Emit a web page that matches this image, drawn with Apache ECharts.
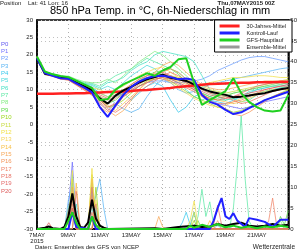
<!DOCTYPE html>
<html>
<head>
<meta charset="utf-8">
<script src="https://cdn.jsdelivr.net/npm/echarts@6/dist/echarts.min.js"></script>
<style>
  html, body { margin: 0; padding: 0; background: #fff; }
  #chart { width: 300px; height: 250px; }
</style>
</head>
<body>
<div id="chart"></div>
<script>
// time axis in forecast hours from 07MAY2015 00Z
const hours = [0, 12, 24, 36, 48, 60, 72, 84, 96, 108, 120, 132, 144, 156, 168, 180, 192,
  204, 216, 228, 240, 252, 264, 276, 288, 300, 312, 324, 336, 348, 360, 372, 384];
const dateLabels = ["7MAY\n2015", "9MAY", "11MAY", "13MAY", "15MAY", "17MAY", "19MAY", "21MAY", ""];

// 850 hPa temperature, main runs
const climTemp = [8.8, 8.8, 8.85, 8.9, 8.9, 9.0, 9.0, 9.1, 9.2, 9.3, 9.4, 9.5, 9.6, 9.8, 9.9, 10.1, 10.3,
  10.5, 10.8, 11.0, 11.2, 11.4, 11.6, 11.7, 11.8, 11.9, 12.0, 12.0, 12.1, 12.1, 12.1, 12.2, 12.2];
const meanTemp = [19.0, 14.6, 14.2, 13.4, 13.3, 12.0, 11.0, 9.8, 7.5, 6.0, 8.3, 9.8, 10.8, 12.0, 13.0, 13.6, 14.3,
  13.4, 13.0, 12.5, 11.5, 10.3, 9.5, 9.0, 8.5, 7.8, 8.0, 8.3, 8.7, 9.0, 9.6, 10.1, 10.5];
const controlTemp = [19.0, 14.8, 14.0, 13.3, 13.1, 11.8, 10.6, 9.2, 5.0, 2.2, 5.5, 8.5, 10.8, 12.3, 13.3, 13.9, 14.0,
  13.6, 13.0, 13.2, 12.8, 8.5, 6.5, 5.7, 4.2, 3.0, 3.5, 4.7, 5.8, 7.0, 7.8, 8.6, 9.4];
const gfsTemp = [19.5, 15.2, 14.4, 13.9, 13.6, 12.6, 11.5, 10.5, 7.0, 7.3, 10.0, 11.5, 12.6, 13.6, 14.7, 14.0, 15.5,
  16.5, 18.7, 19.0, 12.0, 5.6, 7.0, 8.3, 9.6, 13.3, 9.0, 6.5, 5.0, 4.0, 3.7, 4.0, 8.5];

// ensemble members P1..P20 temperature
const memberTemp = [
  [19.2, 14.8, 14.0, 13.2, 13.0, 11.8, 10.6, 9.0, 6, 4, 6, 9, 11, 12.5, 13.5, 14, 14.5, 14, 13, 12, 10, 8.5, 7, 6, 5.5, 5, 4.5, 5, 6, 6.5, 7, 7.5, 8],
  [19.4, 14.5, 14.4, 13.6, 13.5, 12.3, 11.2, 10.2, 8, 7, 8, 9, 10, 11, 12, 12.5, 12.5, 12, 12, 12, 12.5, 13, 14, 15.5, 16.5, 17.5, 18.5, 19.2, 19.5, 19.5, 19, 18.5, 18],
  [19.1, 14.3, 14.1, 13.3, 13.6, 12.4, 11.5, 10.8, 9, 8, 6, 4.5, 3.5, 4.5, 8, 11, 13, 12, 10, 9, 9.5, 10.5, 11.5, 12, 12.5, 13, 13.5, 14, 14.5, 15, 15.5, 16, 16.3],
  [19.3, 14.9, 14.5, 13.8, 13.2, 12.2, 11.4, 10.5, 9, 9.5, 8, 9, 7, 9, 11, 12, 11, 7, 3.5, 5, 8, 9, 7, 6.5, 6, 7, 8, 9, 10, 10.5, 11, 11, 11.5],
  [19.4, 14.6, 14.3, 13.5, 13.7, 12.5, 11.7, 11.2, 10, 11, 10, 12, 14, 15.5, 17, 16, 14, 13, 12, 10, 8, 7, 8, 9, 8.5, 8, 7.5, 8, 9, 9.5, 10, 10.5, 11],
  [19.2, 14.4, 14.0, 13.4, 13.4, 12.6, 11.8, 11.5, 10.5, 12, 12.5, 13.5, 15.5, 17, 18, 20, 21, 20.5, 20, 19.5, 18, 14, 10, 8, 7, 7.5, 8, 9.5, 10, 10.5, 11, 11.5, 12],
  [19.5, 15.0, 14.6, 13.9, 13.8, 12.8, 12.0, 11.8, 11, 12.5, 14, 15, 16, 17.5, 19, 18, 17, 16, 15, 13, 11, 9, 8, 7, 7, 7.5, 6.5, 7, 8.5, 9.5, 10, 10.5, 11],
  [19.3, 14.7, 14.4, 13.7, 13.9, 13.0, 12.3, 12.0, 12, 13, 12, 14, 16, 18, 19.5, 21, 20, 18, 16, 14, 12, 10, 9, 8, 8.5, 9, 9.5, 10, 10.5, 11, 11, 11.5, 12],
  [19.4, 15.1, 14.5, 13.5, 13.3, 12.1, 11.0, 9.5, 8, 6, 7, 9, 11, 12.5, 14, 15, 15.5, 16, 14.5, 12, 10.5, 9, 8, 7.5, 8, 9, 9.5, 10, 10.5, 11, 11.5, 12, 12],
  [19.2, 14.6, 14.2, 13.3, 13.1, 11.9, 10.5, 9.0, 7, 5, 5.5, 7, 9, 11, 12.5, 13, 13.5, 12.5, 11, 9.5, 8, 7, 6, 5, 4.5, 3.5, 4, 5, 6, 7, 8, 9, 10],
  [19.3, 14.5, 14.3, 13.6, 13.4, 12.2, 11.1, 10.0, 9, 8, 9, 10, 11, 12, 13, 14, 14.5, 14, 13.5, 13, 12, 11, 10, 9.5, 9, 9.5, 10, 10.5, 11, 11.5, 12, 12.5, 13],
  [19.5, 14.8, 14.4, 13.8, 13.5, 12.4, 11.4, 10.6, 10, 9, 10, 11, 12.5, 14, 15, 16, 16.5, 15, 13.5, 12, 11, 11.5, 12, 12.5, 13, 13.5, 13.5, 13.7, 14, 14, 13.8, 13.5, 13.5],
  [19.3, 14.4, 14.1, 13.2, 13.1, 11.8, 10.8, 9.8, 8, 7, 8, 9.5, 11.5, 13, 14, 14.5, 13.5, 12, 10.5, 9, 7.5, 6.5, 5.5, 5, 5.5, 6.5, 7.5, 8.5, 9, 9.5, 10, 10, 10.5],
  [19.1, 14.6, 14.0, 13.1, 12.9, 11.6, 10.3, 9.0, 7, 5.5, 4, 6, 8, 10, 12, 13.5, 14, 13, 12.5, 11.5, 10, 8.5, 7.5, 7, 6.5, 6, 6.5, 7.5, 8.5, 9, 9.5, 10, 10],
  [19.2, 14.3, 13.9, 13.0, 12.8, 11.4, 10.0, 8.5, 6, 4, 2.5, 4, 7, 10, 12.5, 15, 17, 18, 17, 15, 13, 11.5, 10.5, 10, 10, 10.5, 11, 11.5, 12, 12.5, 12.5, 12.5, 12.5],
  [19.4, 14.7, 14.1, 13.3, 12.9, 11.5, 10.2, 8.8, 5, 3.5, 5, 8, 10, 11.5, 13, 14, 15, 16, 15, 13, 11, 9, 7, 5.5, 4.5, 3, 2.5, 3.5, 5, 6.5, 8, 9, 9.5],
  [19.3, 14.5, 14.2, 13.4, 13.2, 11.9, 10.7, 9.5, 7.5, 6, 7.5, 9, 10.5, 12, 13, 13.5, 13, 12.5, 11.5, 10.5, 9.5, 8, 6.5, 6, 6, 6.5, 7, 8, 9, 10, 10.5, 11, 11],
  [19.2, 14.4, 13.8, 13.1, 12.7, 11.3, 9.9, 8.4, 6.5, 4.5, 3.5, 5, 7.5, 9.5, 11, 12.5, 14, 15, 14, 12.5, 11, 10, 9, 8.5, 8, 7, 6, 6.5, 7.5, 8.5, 9.5, 10, 10.5],
  [19.4, 14.6, 14.3, 13.5, 13.4, 12.1, 11.2, 10.2, 8.5, 7.5, 8.5, 10, 11.5, 13, 14, 14.5, 15, 14, 13, 12, 10.5, 9.5, 8.5, 8, 7.5, 8, 9, 10, 11, 11.5, 12, 12.5, 12.5],
  [19.3, 14.5, 14.0, 13.3, 13.0, 11.7, 10.5, 9.3, 7, 5, 6, 8, 9.5, 11, 12, 13, 13.5, 13, 12, 11, 10, 8.5, 7.5, 7, 7.5, 8, 8.5, 9, 9.5, 10, 10.5, 11, 11.5]
];

// 6h precipitation [hour, mm]
const meanPrecip = [[0, 0], [12, 0.3], [18, 0.6], [24, 0.2], [36, 0], [42, 0.5], [48, 3], [54, 8.5], [60, 3], [66, 0.5],
  [72, 0.3], [78, 1.5], [84, 7], [90, 2.5], [96, 0.8], [102, 0.3], [108, 0], [180, 0.2], [192, 0], [216, 0.5], [240, 0.8],
  [252, 0.5], [264, 0.6], [276, 1.2], [288, 0.8], [300, 1.2], [312, 1.5], [324, 0.8], [336, 0.6], [348, 0.8], [360, 1.2], [372, 0.8], [384, 1.0]];
const controlPrecip = [[0, 0], [48, 0], [54, 4], [60, 0.5], [78, 0], [84, 3], [90, 0], [264, 0], [270, 2], [276, 5], [282, 7.4],
  [288, 3], [294, 2.4], [300, 3.8], [306, 2], [318, 0.5], [324, 2.6], [336, 2.2], [348, 1.7], [360, 0.5], [372, 2.2], [384, 2.2]];
const gfsPrecip = [[0, 0], [42, 0], [48, 2], [54, 4], [60, 1.5], [66, 0], [78, 0], [84, 3], [90, 1], [96, 0], [228, 0], [234, 0.8],
  [240, 0.3], [252, 1], [264, 0.5], [276, 1.2], [288, 0.4], [300, 0.8], [312, 0.3], [324, 0.6], [336, 0.2], [348, 0.6], [360, 0.4], [372, 0.8], [384, 0.5]];
const memberPrecip = [
  [[0, 0], [42, 0], [48, 5], [54, 16], [60, 2], [66, 0], [78, 0], [84, 8], [90, 1], [96, 0], [222, 0], [228, 0.5], [234, 0], [384, 0]],
  [[0, 0], [48, 0], [54, 9], [60, 1], [66, 0], [84, 0], [90, 6], [96, 0], [270, 0], [276, 1], [282, 0], [384, 0]],
  [[0, 0], [42, 0], [48, 7], [54, 11], [60, 0], [78, 0], [84, 4], [90, 8], [96, 12], [102, 5], [108, 0], [384, 0]],
  [[0, 0], [48, 0], [54, 10], [60, 0], [78, 0], [84, 9], [90, 0], [216, 0], [222, 1.5], [228, 4], [234, 1], [240, 4], [246, 0], [384, 0]],
  [[0, 0], [48, 0], [54, 13], [60, 0], [84, 0], [90, 5], [96, 0], [294, 0], [300, 1], [306, 0], [384, 0]],
  [[0, 0], [54, 0], [60, 6], [66, 0], [78, 0], [84, 11], [90, 0], [384, 0]],
  [[0, 0], [48, 0], [54, 7], [60, 0], [84, 0], [90, 4], [96, 0], [240, 0], [246, 3], [252, 9.5], [258, 3], [264, 6.5], [270, 1],
    [294, 0], [300, 5], [306, 15], [312, 27], [318, 12], [324, 2], [330, 0], [384, 0]],
  [[0, 0], [42, 0], [48, 5], [54, 9], [60, 0], [78, 0], [84, 6], [90, 0], [366, 0], [372, 2], [378, 0], [384, 0]],
  [[0, 0], [48, 0], [54, 5], [60, 0], [78, 0], [84, 3], [90, 0], [240, 0], [246, 2], [252, 0], [366, 0], [372, 3], [378, 1], [384, 4.5]],
  [[0, 0], [48, 0], [54, 8], [60, 0], [84, 0], [90, 10], [96, 0], [234, 0], [240, 2], [246, 0], [384, 0]],
  [[0, 0], [48, 0], [54, 12], [60, 0], [78, 0], [84, 13], [90, 0], [234, 0], [240, 4], [246, 0], [384, 0]],
  [[0, 0], [48, 0], [54, 14], [60, 0], [78, 0], [84, 14.5], [90, 0], [228, 0], [234, 2], [240, 6.7], [246, 1], [252, 0], [384, 0]],
  [[0, 0], [48, 0], [54, 9], [60, 0], [84, 0], [90, 7], [96, 0], [384, 0]],
  [[0, 0], [54, 0], [60, 11], [66, 0], [78, 0], [84, 12], [90, 0], [258, 0], [264, 2], [270, 0], [384, 0]],
  [[0, 0], [48, 0], [54, 10], [60, 0], [78, 0], [84, 8], [90, 0], [180, 0], [186, 3], [192, 0.5], [198, 0], [384, 0]],
  [[0, 0], [42, 0], [48, 4], [54, 7], [60, 0], [84, 0], [90, 6], [96, 0], [270, 0], [276, 2], [282, 0], [384, 0]],
  [[0, 0], [48, 0], [54, 6], [60, 0], [78, 0], [84, 4], [90, 0], [348, 0], [354, 2], [360, 7.4], [366, 1], [372, 0], [384, 0]],
  [[0, 0], [54, 0], [60, 9], [66, 0], [78, 0], [84, 10], [90, 0], [264, 0], [270, 1], [276, 5.7], [282, 1], [288, 0], [384, 0]],
  [[0, 0], [48, 0], [54, 8], [60, 0], [78, 0], [84, 7], [90, 0], [384, 0]],
  [[0, 0], [12, 0], [18, 1.5], [24, 0], [48, 0], [54, 5], [60, 0], [84, 0], [90, 3], [96, 0], [384, 0]]
];

const memberColors = ["#7070ff", "#6a9cff", "#58b4f4", "#38c8ec", "#48d8dc", "#44e0c4", "#5ce8a4", "#84ec84", "#5edc4c", "#9ad81c",
  "#c8dc40", "#f0e048", "#f8d458", "#f8c048", "#f8a858", "#f49458", "#f08468", "#e87468", "#e46c6c", "#de5c5c"];
const labelColors = ["#6058f0"].concat(memberColors);

const pairs = (vals) => vals.map((v, i) => [hours[i], v]);

const series = [];
memberTemp.forEach((vals, i) => {
  series.push({
    type: "line", name: "P" + (i + 1), data: pairs(vals), showSymbol: false, silent: true,
    lineStyle: { width: 1, color: memberColors[i], opacity: 0.75 }, z: 1
  });
});
memberPrecip.forEach((vals, i) => {
  series.push({
    type: "line", name: "P" + (i + 1), yAxisIndex: 1, data: vals, showSymbol: false, silent: true,
    lineStyle: { width: 1, color: memberColors[i], opacity: 0.75 }, z: 1
  });
});
series.push(
  { type: "line", name: "30-Jahres-Mittel", data: pairs(climTemp), showSymbol: false, lineStyle: { width: 2.5, color: "#ff2020" }, itemStyle: { color: "#ff2020" }, z: 3 },
  { type: "line", name: "Ensemble-Mittel", data: pairs(meanTemp), showSymbol: false, lineStyle: { width: 2, color: "#000" }, itemStyle: { color: "#000" }, z: 4 },
  { type: "line", name: "Kontroll-Lauf", data: pairs(controlTemp), showSymbol: false, lineStyle: { width: 2, color: "#2020ff" }, itemStyle: { color: "#2020ff" }, z: 5 },
  { type: "line", name: "GFS-Hauptlauf", data: pairs(gfsTemp), showSymbol: false, lineStyle: { width: 2, color: "#20d020" }, itemStyle: { color: "#20d020" }, z: 6 },
  { type: "line", name: "Ensemble-Mittel", yAxisIndex: 1, data: meanPrecip, showSymbol: false, lineStyle: { width: 2, color: "#000" }, z: 4 },
  { type: "line", name: "Kontroll-Lauf", yAxisIndex: 1, data: controlPrecip, showSymbol: false, lineStyle: { width: 2, color: "#2020ff" }, z: 5 },
  { type: "line", name: "GFS-Hauptlauf", yAxisIndex: 1, data: gfsPrecip, showSymbol: false, lineStyle: { width: 2, color: "#20d020" }, z: 6 }
);

const small = { fontFamily: "Liberation Sans", fontSize: 6, fill: "#222" };
const graphics = [
  { type: "text", left: 0, top: 0, style: Object.assign({}, small, { text: "Position    Lat: 41 Lon: 16" }) },
  { type: "text", right: 25, top: 0, style: Object.assign({}, small, { text: "Thu,07MAY2015 00Z", fontWeight: "bold" }) },
  { type: "text", left: 50, top: 5, style: { text: "850 hPa Temp. in °C, 6h-Niederschlag in mm", fontFamily: "Liberation Sans", fontSize: 11, fill: "#000" } },
  { type: "text", left: 35, top: 244.5, style: Object.assign({}, small, { text: "Daten: Ensembles des GFS von NCEP" }) },
  { type: "text", right: 5, top: 244, style: Object.assign({}, small, { text: "Wetterzentrale", fontSize: 6.5 }) }
];
labelColors.forEach((c, i) => {
  graphics.push({ type: "text", left: 1, top: 41 + i * 7.35, style: { text: "P" + i, fontFamily: "Liberation Sans", fontSize: 6, fill: c } });
});

const chart = echarts.init(document.getElementById("chart"), null, { renderer: "canvas" });
chart.setOption({
  animation: false,
  backgroundColor: "#fff",
  grid: { left: 37, right: 8, top: 20, bottom: 21, show: true, borderColor: "#000", borderWidth: 1.5, backgroundColor: "transparent" },
  legend: {
    data: [
      { name: "30-Jahres-Mittel" },
      { name: "Kontroll-Lauf" },
      { name: "GFS-Hauptlauf" },
      { name: "Ensemble-Mittel", itemStyle: { color: "#999" } }
    ],
    orient: "vertical", right: 8, top: 20, icon: "rect", itemWidth: 20, itemHeight: 3, itemGap: 1,
    padding: [3, 6, 2, 5], backgroundColor: "#fff", borderColor: "#000", borderWidth: 1, borderRadius: 0,
    selectedMode: false,
    textStyle: { fontFamily: "Liberation Sans", fontSize: 5.5, color: "#222", lineHeight: 6, padding: [0, 0, 0, 2] }
  },
  xAxis: {
    type: "value", min: 0, max: 384, interval: 48,
    axisLine: { onZero: false, lineStyle: { color: "#000", width: 1.5 } },
    axisTick: { show: false },
    axisLabel: { fontFamily: "Liberation Sans", fontSize: 6, color: "#222", margin: 3, lineHeight: 6, formatter: (v) => dateLabels[v / 48] },
    splitLine: { show: true, lineStyle: { color: "#b0b0b0", type: [1, 3], width: 1 } }
  },
  yAxis: [
    {
      type: "value", min: -30, max: 30, interval: 5,
      axisLine: { show: true, lineStyle: { color: "#000", width: 1.5 } },
      axisTick: { show: false },
      axisLabel: { fontFamily: "Liberation Sans", fontSize: 6, color: "#222", margin: 4 },
      splitLine: { show: true, lineStyle: { color: "#c0c0c0", type: [1, 3], width: 1 } }
    },
    {
      type: "value", min: 0, max: 50, interval: 5, position: "right",
      axisLine: { show: true, lineStyle: { color: "#000", width: 1.5 } },
      axisTick: { show: false },
      axisLabel: { fontFamily: "Liberation Sans", fontSize: 6, color: "#222", margin: 2 },
      splitLine: { show: true, lineStyle: { color: "#c0c0c0", type: [1, 3], width: 1 } }
    }
  ],
  graphic: graphics,
  series: series
});
</script>
</body>
</html>
